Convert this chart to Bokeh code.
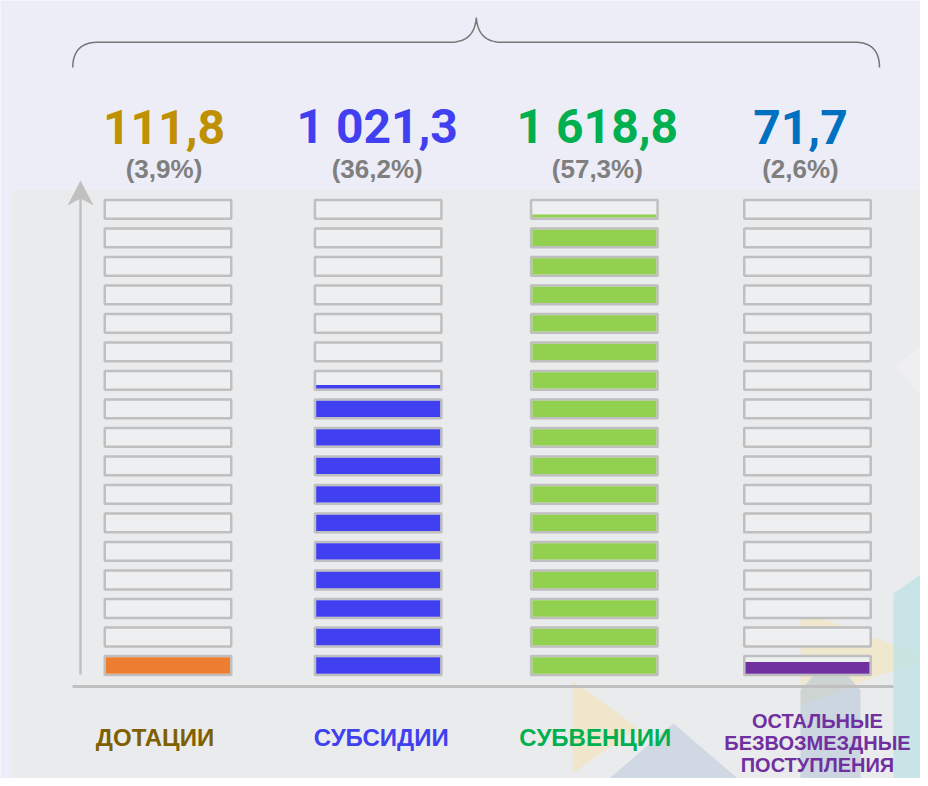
import numpy as np
from bokeh.plotting import figure
from bokeh.models import Range1d
from bokeh.core.properties import value
from bokeh.embed import file_html
from bokeh.resources import INLINE

# ---------------- data ----------------
categories = ["ДОТАЦИИ", "СУБСИДИИ", "СУБВЕНЦИИ", "ОСТАЛЬНЫЕ\nБЕЗВОЗМЕЗДНЫЕ\nПОСТУПЛЕНИЯ"]
amounts = [111.8, 1021.3, 1618.8, 71.7]
shares = [3.9, 36.2, 57.3, 2.6]
cell_size = 100.0
n_cells = 17

# ---------------- styles ----------------
fill_colors = ["#ED7D31", "#4040F0", "#92D050", "#7030A0"]
value_colors = ["#BF9000", "#4040F0", "#00B050", "#0070C0"]
label_colors = ["#7F6000", "#4040F0", "#00B050", "#7030A0"]
col_dx_px = [0, -3, 0, 0]
value_dx_px = [-4, -4, 3, -7]
label_dx_px = [-13, 0, 1, 10]
min_visible_fraction = 0.15

W, H = 920, 778
PX = 1 / 213.16          # data units per pixel (x)
PY = 1 / 0.2851          # data units per pixel (y)
XS = -167.5 * PX
XE = XS + W * PX
YS = 50 - (H - 665) * PY
YE = YS + H * PY


def dx(rx):
    return XS + np.asarray(rx, float) * PX


def dy(ry):
    return YE - np.asarray(ry, float) * PY


p = figure(width=W, height=H, x_range=Range1d(XS, XE), y_range=Range1d(YS, YE),
           output_backend="svg", toolbar_location=None, min_border=0)
p.xaxis.visible = False
p.yaxis.visible = False
p.xgrid.visible = False
p.ygrid.visible = False
p.outline_line_color = None
p.background_fill_color = "#ECEDF7"
p.border_fill_color = "#ECEDF7"

# gray panel
p.quad(left=[dx(11)], right=[dx(940)], bottom=[dy(800)], top=[dy(190)],
       fill_color="#EAEBED", line_color=None)

# decorative translucent shapes
decor = [
    ([572, 572, 637], [680, 773, 727], "#F3E3B5", 0.6),
    ([583, 673, 763], [800, 723, 800], "#B9CADA", 0.55),
    ([800, 927, 800], [610, 657, 705], "#F3E3B5", 0.55),
    ([800, 830, 860, 860, 800], [690, 655, 690, 800, 800], "#B3C4D6", 0.55),
    ([893, 940, 940, 893], [593, 560, 800, 800], "#BFE2E5", 0.8),
    ([895, 940, 940], [365, 330, 420], "#F3F3F6", 0.5),
]
p.patches(xs=[list(dx(a)) for a, b, c, d in decor], ys=[list(dy(b)) for a, b, c, d in decor],
          fill_color=[c for a, b, c, d in decor], fill_alpha=[d for a, b, c, d in decor],
          line_color=None)

# axis arrow and base line
p.line(x=dx([80, 80]), y=dy([674, 195]), line_color="#C0C0C0", line_width=2.5)
p.patch(x=dx([80, 67, 80, 93]), y=dy([180, 205, 198, 205]), fill_color="#C0C0C0", line_color=None)
p.line(x=dx([72, 893]), y=dy([686, 686]), line_color="#BFBFBF", line_width=3)


# brace
def qbez(p0, p1, p2, n=20):
    t = np.linspace(0, 1, n)[:, None]
    a, b, c = map(np.array, (p0, p1, p2))
    return (1 - t) ** 2 * a + 2 * (1 - t) * t * b + t ** 2 * c


pts = np.vstack([
    qbez((72.3, 67), (72.3, 41.7), (98, 41.7)),
    qbez((450, 41.7), (474, 41.7), (475.8, 17)),
    qbez((475.8, 17), (477.6, 41.7), (501, 41.7)),
    qbez((854, 41.7), (879, 41.7), (879, 67)),
])
p.line(x=dx(pts[:, 0]), y=dy(pts[:, 1]), line_color="#767676", line_width=1.5)

# cells
half_w = 0.2967
box_pad = 17.0
bw = 1.25
lefts, rights, bottoms, tops = [], [], [], []
fl, fr, fb, ft, fc = [], [], [], [], []
for k, v in enumerate(amounts):
    xc = k + col_dx_px[k] * PX
    for i in range(n_cells):
        b = i * cell_size + box_pad
        t = (i + 1) * cell_size - box_pad
        lefts.append(xc - half_w)
        rights.append(xc + half_w)
        bottoms.append(b)
        tops.append(t)
        frac = min(max((v - i * cell_size) / cell_size, 0.0), 1.0)
        if frac >= min_visible_fraction:
            ib = b + bw * PY
            it = t - bw * PY
            fl.append(xc - half_w + bw * PX)
            fr.append(xc + half_w - bw * PX)
            fb.append(ib)
            ft.append(ib + frac * (it - ib))
            fc.append(fill_colors[k])

p.quad(left=lefts, right=rights, bottom=bottoms, top=tops,
       fill_color="#EEEFF1", line_color="#BFBFBF", line_width=2.5)
p.quad(left=fl, right=fr, bottom=fb, top=ft, fill_color=fc, line_color=None)


# texts
def fmt(v):
    return f"{v:,.1f}".replace(",", " ").replace(".", ",")


xv = [k + value_dx_px[k] * PX for k in range(len(amounts))]
p.text(x=xv, y=[float(dy(126))] * 4, text=[fmt(v) for v in amounts], text_color=value_colors,
       text_font=value("Roboto"), text_font_size="48px", text_font_style="bold",
       text_align="center", text_baseline="alphabetic")
p.text(x=xv, y=[float(dy(168))] * 4, text=[f"({fmt(s)}%)" for s in shares], text_color="#7F7F7F",
       text_font=value("Liberation Sans"), text_font_size="26px", text_font_style="bold",
       text_align="center", text_baseline="alphabetic")

for k, cat in enumerate(categories):
    lines = cat.split("\n")
    if len(lines) == 1:
        ys_ = [737]
        size = "24px"
    else:
        ys_ = [720 + 22 * j for j in range(len(lines))]
        size = "20px"
    p.text(x=[k + label_dx_px[k] * PX] * len(lines), y=list(dy(ys_)), text=lines,
           text_color=label_colors[k], text_font=value("Liberation Sans"), text_font_size=size,
           text_font_style="bold", text_align="center", text_baseline="middle")

open("out.html", "w").write(file_html(p, INLINE))
